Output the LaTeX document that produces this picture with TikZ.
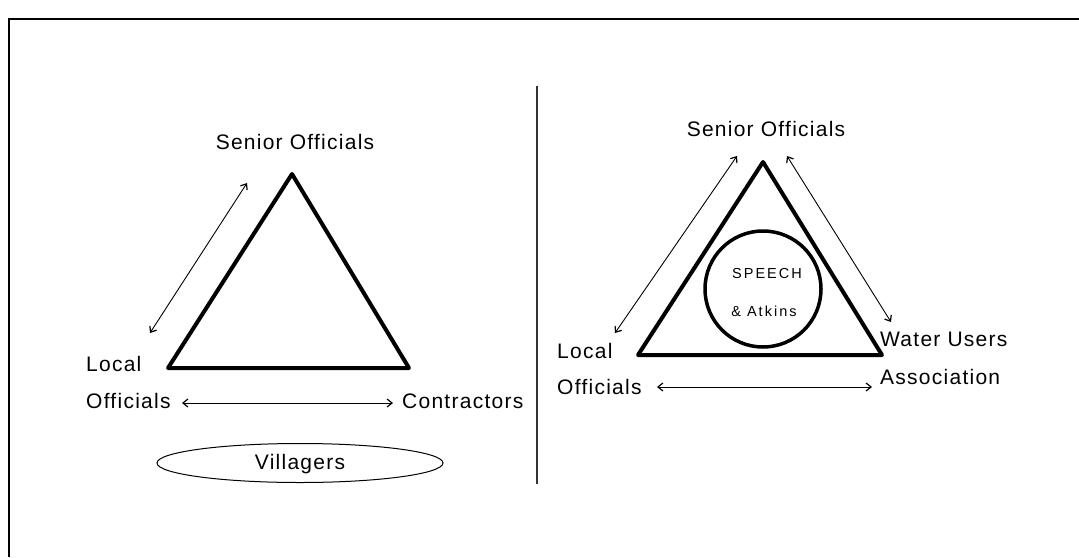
\documentclass[tikz,border=0pt]{standalone}
\usepackage{fontspec}
\setmainfont{Liberation Sans}[LetterSpace=6]
\newfontfamily\smallfont{Liberation Sans}[LetterSpace=14]
\usetikzlibrary{shapes.geometric,arrows.meta}
\begin{document}
\begin{tikzpicture}[x=1pt,y=-1pt,
  lbl/.style={inner sep=0pt,font=\fontsize{21}{24}\selectfont},
  small/.style={inner sep=0pt,font=\smallfont\fontsize{14.5}{16}\selectfont},
  tri/.style={line width=4pt,line join=round},
  link/.style={line width=0.9pt,{Straight Barb[length=5pt,width=8pt,line width=1.2pt]}-{Straight Barb[length=5pt,width=8pt,line width=1.2pt]}},
  frame/.style={line width=2pt}]
\useasboundingbox (0,0) rectangle (1079,557);
% frame
\coordinate (f1) at (9,557);
\coordinate (f2) at (9,19);
\coordinate (f3) at (1079,19);
\draw[frame] (f1) -- (f2) -- (f3);
% divider
\coordinate (d1) at (537,86);
\coordinate (d2) at (537,484);
\draw[line width=2pt,black!80] (d1) -- (d2);

% ---------- left diagram ----------
\coordinate (LA) at (292,174);
\coordinate (LB) at (168,368);
\coordinate (LC) at (409,368);
\draw[tri] (LA) -- (LB) -- (LC) -- cycle;
\node[lbl] (lsen) at (295,142) {Senior Officials};
\node[lbl,anchor=west] (lloc) at (86,364) {Local};
\node[lbl,anchor=west] (loff) at (86,401) {Officials};
\node[lbl,anchor=west] (lcon) at (402,401) {Contractors};
\coordinate (la1) at (150,333);
\coordinate (la2) at (247,183);
\draw[link] (la1) -- (la2);
\coordinate (lh1) at (182,403);
\coordinate (lh2) at (393,403);
\draw[link] (lh1) -- (lh2);
\node[ellipse,draw,line width=1pt,minimum width=286pt,minimum height=39pt,inner sep=0pt] (vil) at (300,463) {};
\node[lbl] (viltxt) at (300,464) {Villagers};

% ---------- right diagram ----------
\coordinate (RA) at (763,162);
\coordinate (RB) at (638,355);
\coordinate (RC) at (882,355);
\draw[tri] (RA) -- (RB) -- (RC) -- cycle;
\node[circle,draw,line width=3.5pt,minimum size=116pt,inner sep=0pt] (circ) at (763,289) {};
\node[small] (speech) at (767,274) {SPEECH};
\node[small] (atkins) at (764,311) {\& Atkins};
\node[lbl] (rsen) at (766,129) {Senior Officials};
\node[lbl,anchor=west] (rloc) at (557,351) {Local};
\node[lbl,anchor=west] (roff) at (557,387) {Officials};
\node[lbl,anchor=west] (rwat) at (880,339) {Water Users};
\node[lbl,anchor=west] (rass) at (880,377) {Association};
\coordinate (ra1) at (615,333);
\coordinate (ra2) at (737,156);
\draw[link] (ra1) -- (ra2);
\coordinate (rb1) at (787,156);
\coordinate (rb2) at (891,322);
\draw[link] (rb1) -- (rb2);
\coordinate (rh1) at (657,387);
\coordinate (rh2) at (872,387);
\draw[link] (rh1) -- (rh2);
\end{tikzpicture}
\end{document}
